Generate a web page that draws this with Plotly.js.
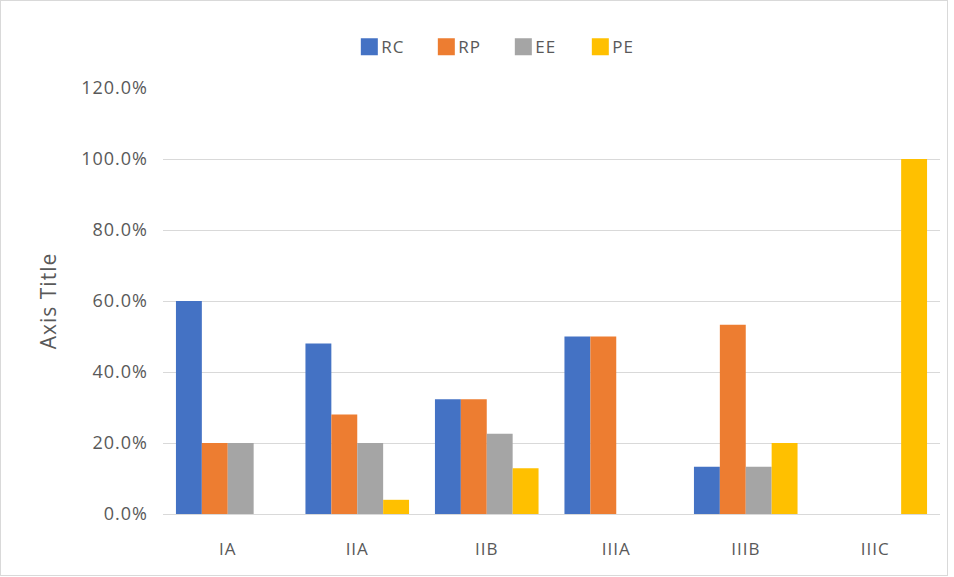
<!DOCTYPE html>
<html>
<head>
<meta charset="utf-8">
<script src="https://cdn.plot.ly/plotly-3.0.1.min.js"></script>
<style>
html,body{margin:0;padding:0;background:#fff;}
#wrap{position:absolute;left:0;top:0;width:948px;height:576px;border:1px solid #d9d9d9;box-sizing:border-box;pointer-events:none;}
#chart{position:absolute;left:0;top:0;width:954px;height:577px;}
#chart text{letter-spacing:1px;}
#chart .legendpoints path{d:path("M8.5,8.5H-8.5V-8.5H8.5Z");}
#chart .legendtext{transform:translateX(-8px);}
</style>
</head>
<body>
<div id="chart"></div>
<div id="wrap"></div>
<script>
const categories = ["IA", "IIA", "IIB", "IIIA", "IIIB", "IIIC"];
const seriesNames = ["RC", "RP", "EE", "PE"];
const rc = [0.60, 0.48, 0.323, 0.50, 0.133, 0];
const rp = [0.20, 0.28, 0.323, 0.50, 0.533, 0];
const ee = [0.20, 0.20, 0.226, 0, 0.133, 0];
const pe = [0, 0.04, 0.129, 0, 0.20, 1.00];
const colors = ["#4472C4", "#ED7D31", "#A5A5A5", "#FFC000"];
const yTicks = [0, 0.2, 0.4, 0.6, 0.8, 1.0, 1.2];

const values = [rc, rp, ee, pe];
const traces = values.map((v, i) => ({
  type: "bar",
  name: seriesNames[i],
  x: categories,
  y: v,
  marker: {color: colors[i]}
}));

const font = "Open Sans, Noto Sans, sans-serif";
const layout = {
  width: 954, height: 577,
  margin: {l: 163, r: 14, t: 88, b: 63, autoexpand: false},
  paper_bgcolor: "#ffffff",
  plot_bgcolor: "#ffffff",
  barmode: "group",
  bargap: 0.2,
  bargroupgap: 0,
  showlegend: true,
  legend: {
    orientation: "h", x: 0.438, xanchor: "center", y: 1.096, yanchor: "middle",
    font: {family: font, size: 17, color: "#595959"},
    itemwidth: 30, traceorder: "normal", entrywidth: 32
  },
  font: {family: font, color: "#595959"},
  xaxis: {
    type: "category",
    showgrid: false,
    showline: true, linecolor: "#d9d9d9", linewidth: 1,
    ticks: "", ticklabelstandoff: 20,
    tickfont: {family: font, size: 17, color: "#595959"},
    zeroline: false
  },
  yaxis: {
    range: [0, 1.2],
    tickvals: yTicks,
    tickformat: ".1%",
    showgrid: true, gridcolor: "#d9d9d9", gridwidth: 1,
    showline: false, zeroline: false, ticks: "",
    ticklabelstandoff: 14,
    tickfont: {family: font, size: 18, color: "#595959"},
    title: {text: "Axis Title", font: {family: font, size: 21, color: "#595959"}, standoff: 24}
  }
};
Plotly.newPlot("chart", traces, layout, {displayModeBar: false, staticPlot: true});
</script>
</body>
</html>
